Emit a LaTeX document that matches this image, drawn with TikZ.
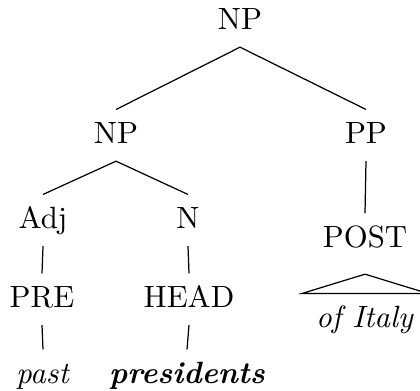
\documentclass[tikz,border=0pt]{standalone}
\usepackage{tikz}
\usetikzlibrary{calc}
\tikzset{cat/.style={anchor=base, inner xsep=0pt, inner ysep=3.7pt, text height=7pt, text depth=2pt}}
\begin{document}
\begin{tikzpicture}[x=0.325pt, y=-0.325pt]
        \useasboundingbox (0,0) rectangle (420,390);
        % Category labels
        \node[cat] (np) at (240,29) {NP};
        \node[cat] (npl) at (116,143) {NP};
        \node[cat] (pp) at (366,143) {PP};
        \node[cat] (adj) at (43,228) {Adj};
        \node[cat] (n) at (188,228) {N};
        \node[cat] (post) at (365,247) {POST};
        \node[cat] (pre) at (42,307) {PRE};
        \node[cat] (head) at (189,307) {HEAD};
        % Words
        \node[cat] (past) at (43,383) {\textit{past}};
        \node[cat] (pres) at (187,383) {\textbf{\textit{presidents}}};
        \node[cat] (italy) at (365,327) {\textit{of Italy}};
        % Branches
        \draw (np.south) -- (npl.north);
        \draw (np.south) -- (pp.north);
        \draw (npl.south) -- (adj.north);
        \draw (npl.south) -- (n.north);
        \draw (pp.south) -- (post.north);
        \draw (adj.south) -- (pre.north);
        \draw (n.south) -- (head.north);
        \draw (pre.south) -- (past.north);
        \draw (head.south) -- (pres.north);
        % Roof over the phrase
        \coordinate (roof) at ($(post.south)+(0,9)$);
        \draw (roof) -- ($(italy.north)+(-63,0)$) -- ($(italy.north)+(63,0)$) -- cycle;
      \end{tikzpicture}
\end{document}
